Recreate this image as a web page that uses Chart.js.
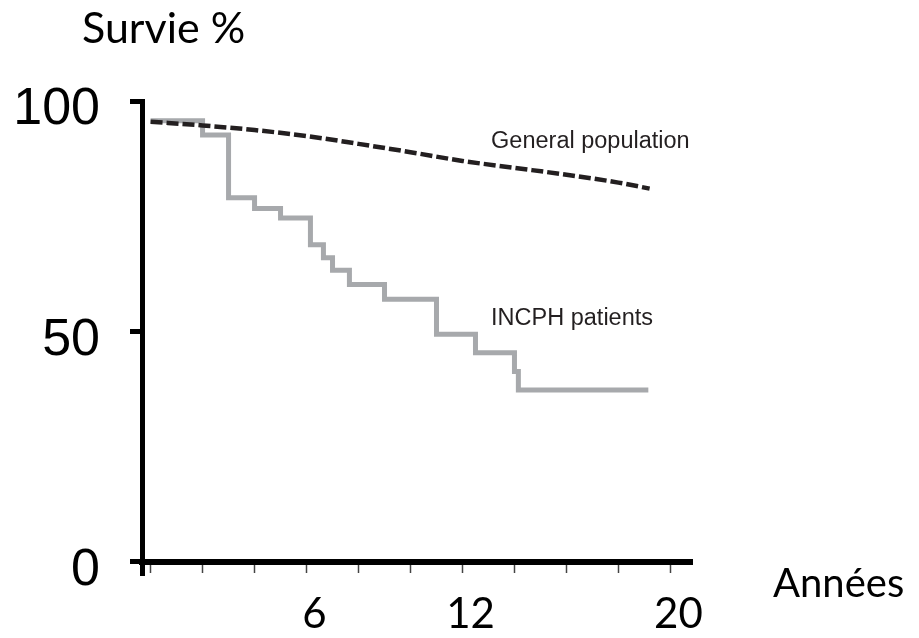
<!DOCTYPE html>
<html>
<head>
<meta charset="utf-8">
<script src="https://cdn.jsdelivr.net/npm/chart.js@4.4.1/dist/chart.umd.min.js"></script>
<style>
  html, body { margin: 0; padding: 0; background: #fff; }
  #wrap { width: 919px; height: 638px; position: relative; }
</style>
</head>
<body>
<div id="wrap"><canvas id="survivalChart"></canvas></div>
<script>
// Survival (%), time in years
const incphYears = [0, 2.0, 3.0, 4.0, 5.0, 6.15, 6.65, 7.0, 7.65, 9.0, 11.0, 12.5, 14.0, 14.15, 19.15];
const incphSurvival = [95.7, 92.6, 79.0, 76.7, 74.6, 68.8, 66.0, 63.3, 60.2, 57.0, 49.4, 45.4, 41.3, 37.3, 37.3];

const generalYears = [0, 2, 4, 6, 8, 10, 12, 14, 16, 18, 19.2];
const generalSurvival = [95.5, 94.7, 93.7, 92.4, 90.7, 88.9, 87.0, 85.5, 84.0, 82.3, 81.0];

const xTickLabels = [6, 12, 20];
const yTickLabels = [0, 50, 100];

const seriesNames = ['General population', 'INCPH patients'];
// where the curve names sit, in data units (years, %)
const nameAnchors = [{ x: 13.1, y: 89.8 }, { x: 13.1, y: 51.4 }];

const toPoints = (xs, ys) => xs.map((x, i) => ({ x: x, y: ys[i] }));

const textPlugin = {
  id: 'figureText',
  afterDraw(chart) {
    const { ctx } = chart;
    const x = chart.scales.x, y = chart.scales.y;
    ctx.save();
    ctx.textBaseline = 'alphabetic';
    ctx.textAlign = 'left';
    ctx.fillStyle = '#231f20';
    ctx.font = '23.5px "Liberation Sans", Arial, sans-serif';
    seriesNames.forEach((name, i) => {
      ctx.fillText(name, x.getPixelForValue(nameAnchors[i].x), y.getPixelForValue(nameAnchors[i].y));
    });
    ctx.fillStyle = '#000';
    ctx.font = '43px Lato, sans-serif';
    ctx.fillText('Survie %', 82, 43);
    ctx.font = '40px Lato, sans-serif';
    ctx.fillText('Années', 773, 597);
    ctx.restore();
  }
};

const ctx = document.getElementById('survivalChart').getContext('2d');

new Chart(ctx, {
  type: 'line',
  data: {
    datasets: [
      {
        label: seriesNames[0],
        data: toPoints(generalYears, generalSurvival),
        borderColor: '#231f20',
        borderWidth: 4.5,
        borderDash: [12, 4],
        pointRadius: 0,
        cubicInterpolationMode: 'monotone',
        fill: false
      },
      {
        label: seriesNames[1],
        data: toPoints(incphYears, incphSurvival),
        borderColor: '#a7a9ac',
        borderWidth: 5,
        stepped: true,
        pointRadius: 0,
        fill: false
      }
    ]
  },
  options: {
    responsive: true,
    maintainAspectRatio: false,
    animation: false,
    layout: { padding: { left: 0, top: 101, right: 227, bottom: 63 } },
    plugins: {
      legend: { display: false },
      tooltip: { enabled: false }
    },
    scales: {
      x: {
        type: 'linear',
        min: -0.33,
        max: 20.83,
        position: { y: 0 },
        border: { display: true, color: '#000', width: 6 },
        grid: { drawOnChartArea: false, drawTicks: true, tickLength: 8, tickWidth: 1.5, tickColor: '#444' },
        ticks: {
          stepSize: 2,
          includeBounds: false,
          autoSkip: false,
          maxRotation: 0,
          padding: 19,
          labelOffset: 8,
          color: '#000',
          font: { family: 'Lato', size: 42 },
          callback: v => xTickLabels.includes(v) ? String(v) : ''
        }
      },
      y: {
        type: 'linear',
        min: -2.82,
        max: 100,
        border: { display: true, color: '#000', width: 5 },
        grid: { drawOnChartArea: false, drawTicks: true, tickLength: 12, tickWidth: 5, tickColor: '#000' },
        ticks: {
          stepSize: 50,
          includeBounds: false,
          autoSkip: false,
          padding: 30,
          labelOffset: 9,
          color: '#000',
          font: { family: 'Liberation Sans', size: 52 },
          callback: v => yTickLabels.includes(v) ? String(v) : ''
        },
        afterFit: s => { s.width = 142; }
      }
    }
  },
  plugins: [textPlugin]
});
</script>
</body>
</html>
